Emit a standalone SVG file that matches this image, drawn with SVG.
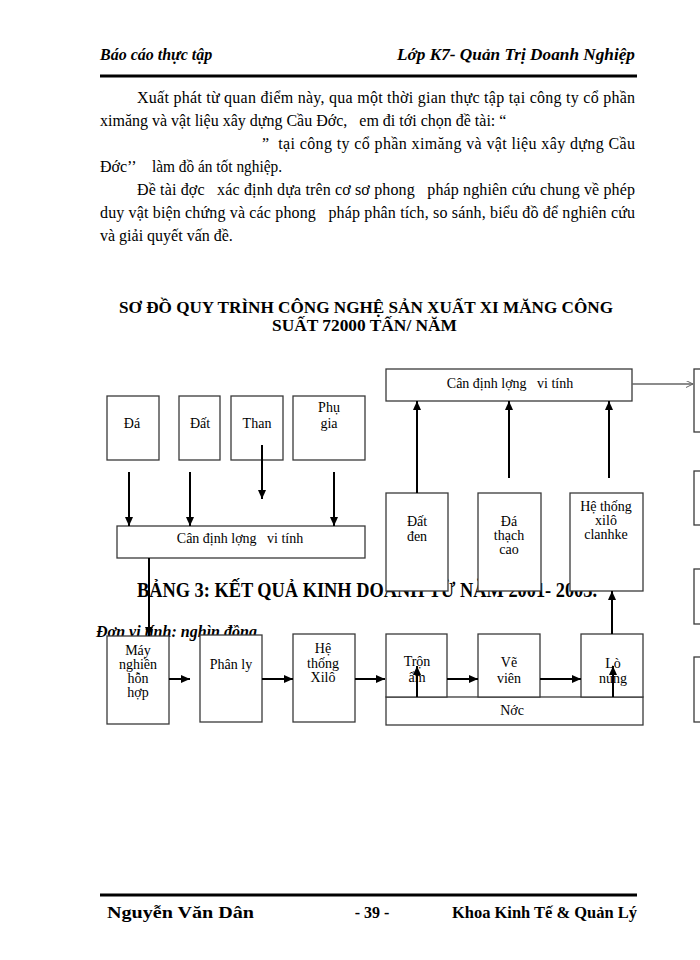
<svg xmlns="http://www.w3.org/2000/svg" width="700" height="960" viewBox="0 0 700 960">
<style>
text{font-family:"Liberation Serif","Times New Roman",serif;fill:#000}
.body{font-size:16px;white-space:pre}
.hdr{font-size:16px;font-weight:bold;font-style:italic}
.ftr{font-size:16px;font-weight:bold}
.ttl{font-size:17px;font-weight:bold}
.lbl{font-size:14px;text-anchor:middle}
.pre{white-space:pre}
.box{fill:#fff;stroke:#3a3a3a;stroke-width:1.3}
.ar{stroke:#000;stroke-width:2;fill:none;marker-end:url(#ah)}
.thin{stroke:#666;stroke-width:1.5;fill:none;marker-end:url(#ah2)}
</style>
<defs>
<marker id="ah" markerUnits="userSpaceOnUse" markerWidth="9" markerHeight="8" refX="9" refY="4" orient="auto"><path d="M0,0 L9,4 L0,8 z" fill="#000"/></marker>
<marker id="ah2" markerUnits="userSpaceOnUse" markerWidth="7" markerHeight="7" refX="7" refY="3.5" orient="auto"><path d="M0,0 L7,3.5 L0,7" fill="none" stroke="#666" stroke-width="1"/></marker>
</defs>
<rect width="700" height="960" fill="#fff"/>

<g id="header">
<text class="hdr" x="100" y="60">Báo cáo thực tập</text>
<text class="hdr" x="397" y="60" textLength="238" lengthAdjust="spacingAndGlyphs">Lớp K7- Quản Trị Doanh Nghiệp</text>
<line x1="100" y1="76" x2="637" y2="76" stroke="#000" stroke-width="3"/>
</g>

<g id="bodytext">
<text class="body" x="137" y="103" textLength="498" lengthAdjust="spacing">Xuất phát từ quan điểm này, qua một thời gian thực tập tại công ty cổ phần</text>
<text class="body" x="100" y="126" font-size="14.5">ximăng và vật liệu xây dựng Cầu Đớc,   em đi tới chọn đề tài: “</text>
<text class="body" x="262" y="149" textLength="373" lengthAdjust="spacing">”  tại công ty cổ phần ximăng và vật liệu xây dựng Cầu</text>
<text class="body" x="100" y="172">Đớc’’</text>
<text class="body" x="152" y="172" textLength="130" lengthAdjust="spacingAndGlyphs">làm đồ án tốt nghiệp.</text>
<text class="body" x="137" y="195" textLength="498" lengthAdjust="spacing">Đề tài đợc   xác định dựa trên cơ sơ phong   pháp nghiên cứu chung về phép</text>
<text class="body" x="100" y="218" textLength="535" lengthAdjust="spacing">duy vật biện chứng và các phong   pháp phân tích, so sánh, biểu đồ để nghiên cứu</text>
<text class="body" x="100" y="241">và giải quyết vấn đề.</text>
</g>

<g id="title">
<text class="ttl" x="119" y="313" textLength="494" lengthAdjust="spacingAndGlyphs">SƠ ĐỒ QUY TRÌNH CÔNG NGHỆ SẢN XUẤT XI MĂNG CÔNG</text>
<text class="ttl" x="272" y="331" textLength="185" lengthAdjust="spacingAndGlyphs">SUẤT 72000 TẤN/ NĂM</text>
</g>

<g id="table-caption">
<text x="137" y="597" font-size="20" font-weight="bold" textLength="460" lengthAdjust="spacingAndGlyphs">BẢNG 3: KẾT QUẢ KINH DOANH TỪ NĂM 2001- 2003.</text>
<text x="96" y="637" font-size="16" font-weight="bold" font-style="italic" textLength="161" lengthAdjust="spacingAndGlyphs">Đơn vị tính: nghìn đồng</text>
</g>

<g id="n-da"><rect class="box" x="107" y="396" width="52" height="64"/><text class="lbl" x="132" y="428">Đá</text></g>
<g id="n-dat"><rect class="box" x="179" y="396" width="41" height="64"/><text class="lbl" x="200" y="428">Đất</text></g>
<g id="n-than"><rect class="box" x="231" y="396" width="52" height="64"/><text class="lbl" x="257" y="428">Than</text></g>
<g id="n-phugia"><rect class="box" x="293" y="396" width="72" height="64"/><text class="lbl" x="329" y="412">Phụ</text><text class="lbl" x="329" y="428">gia</text></g>
<g id="n-can1"><rect class="box" x="117" y="526" width="248" height="32"/><text class="lbl pre" x="240" y="543">Cân định lợng   vi tính</text></g>

<g id="n-can2"><rect class="box" x="386" y="369" width="246" height="32"/><text class="lbl pre" x="510" y="388">Cân định lợng   vi tính</text></g>
<g id="n-datden"><rect class="box" x="386" y="493" width="62" height="98"/><text class="lbl" x="417" y="526">Đất</text><text class="lbl" x="417" y="541">đen</text></g>
<g id="n-thachcao"><rect class="box" x="478" y="493" width="63" height="98"/><text class="lbl" x="509" y="526">Đá</text><text class="lbl" x="509" y="540">thạch</text><text class="lbl" x="509" y="554">cao</text></g>
<g id="n-xiloclanhke"><rect class="box" x="570" y="493" width="73" height="98"/><text class="lbl" x="606" y="511">Hệ thống</text><text class="lbl" x="606" y="525">xilô</text><text class="lbl" x="606" y="539">clanhke</text></g>

<g id="n-maynghien"><rect class="box" x="107" y="636" width="62" height="88"/><text class="lbl" x="138" y="655">Máy</text><text class="lbl" x="138" y="669">nghiền</text><text class="lbl" x="138" y="683">hỗn</text><text class="lbl" x="138" y="697">hợp</text></g>
<g id="n-phanly"><rect class="box" x="200" y="635" width="62" height="87"/><text class="lbl" x="231" y="669">Phân ly</text></g>
<g id="n-xilo"><rect class="box" x="293" y="634" width="62" height="88"/><text class="lbl" x="323" y="653">Hệ</text><text class="lbl" x="323" y="668">thống</text><text class="lbl" x="323" y="682">Xilô</text></g>
<g id="n-nuoc"><rect class="box" x="386" y="697" width="257" height="28"/><text class="lbl" x="512" y="715">Nớc</text></g>
<g id="n-tronam"><rect class="box" x="386" y="634" width="61" height="63"/><text class="lbl" x="417" y="666">Trộn</text><text class="lbl" x="417" y="682">ẩm</text></g>
<g id="n-vevien"><rect class="box" x="478" y="634" width="62" height="63"/><text class="lbl" x="509" y="667">Vẽ</text><text class="lbl" x="509" y="683">viên</text></g>
<g id="n-lonung"><rect class="box" x="581" y="634" width="62" height="63"/><text class="lbl" x="613" y="668">Lò</text><text class="lbl" x="613" y="683">nung</text></g>

<g id="n-right1"><rect class="box" x="694" y="369" width="20" height="63"/></g>
<g id="n-right2"><rect class="box" x="694" y="471" width="20" height="54"/></g>
<g id="n-right3"><rect class="box" x="694" y="569" width="20" height="55"/></g>
<g id="n-right4"><rect class="box" x="694" y="657" width="20" height="65"/></g>

<g id="connectors">
<line class="ar" x1="129" y1="472" x2="129" y2="526"/>
<line class="ar" x1="190" y1="472" x2="190" y2="526"/>
<line class="ar" x1="262" y1="445" x2="262" y2="499"/>
<line class="ar" x1="334" y1="472" x2="334" y2="526"/>
<line class="ar" x1="149" y1="558" x2="149" y2="636"/>
<line class="ar" x1="169" y1="679" x2="190" y2="679"/>
<line class="ar" x1="262" y1="679" x2="293" y2="679"/>
<line class="ar" x1="355" y1="679" x2="385" y2="679"/>
<line class="ar" x1="447" y1="679" x2="478" y2="679"/>
<line class="ar" x1="540" y1="679" x2="581" y2="679"/>
<line class="ar" x1="417" y1="697" x2="417" y2="666"/>
<line class="ar" x1="613" y1="697" x2="613" y2="666"/>
<line class="ar" x1="612" y1="634" x2="612" y2="591"/>
<line class="ar" x1="417" y1="493" x2="417" y2="401"/>
<line class="ar" x1="509" y1="478" x2="509" y2="401"/>
<line class="ar" x1="609" y1="478" x2="609" y2="401"/>
<line class="thin" x1="632" y1="384" x2="693" y2="384"/>
</g>

<g id="footer">
<line x1="100" y1="895" x2="637" y2="895" stroke="#000" stroke-width="3"/>
<text class="ftr" x="107" y="918" textLength="147" lengthAdjust="spacingAndGlyphs">Nguyễn Văn Dân</text>
<text class="ftr" x="372" y="918" text-anchor="middle">- 39 -</text>
<text class="ftr" x="452" y="918" textLength="185" lengthAdjust="spacingAndGlyphs">Khoa Kinh Tế &amp; Quản Lý</text>
</g>
</svg>
